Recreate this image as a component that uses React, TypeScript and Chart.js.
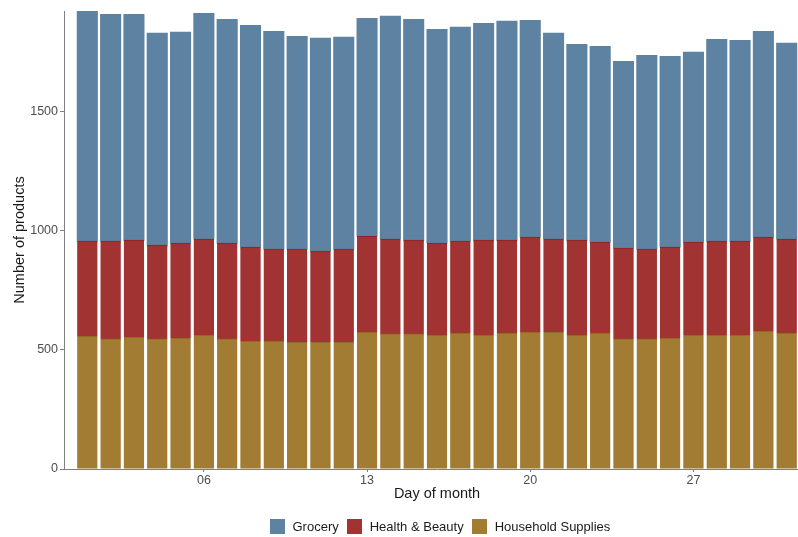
import { useEffect, useRef } from 'react';
import { Chart, registerables } from 'chart.js';

Chart.register(...registerables);

const days = [1, 2, 3, 4, 5, 6, 7, 8, 9, 10, 11, 12, 13, 14, 15, 16, 17, 18, 19, 20, 21, 22, 23, 24, 25, 26, 27, 28, 29, 30, 31];
const grocery = [964, 951, 947, 889, 884, 946, 938, 930, 913, 892, 893, 888, 913, 934, 926, 896, 897, 909, 918, 909, 863, 821, 821, 783, 812, 800, 796, 846, 842, 863, 821];
const healthBeauty = [398, 410, 406, 393, 398, 403, 402, 394, 386, 390, 381, 390, 402, 398, 393, 386, 385, 398, 389, 398, 390, 398, 381, 381, 377, 381, 390, 394, 394, 394, 394];
const household = [557, 545, 553, 545, 549, 561, 545, 536, 536, 532, 532, 532, 574, 566, 566, 561, 570, 561, 570, 574, 574, 561, 570, 545, 545, 549, 561, 561, 561, 578, 570];
const xTickValues = [6, 13, 20, 27];
const xTickLabels = ['06', '13', '20', '27'];
const yTickValues = [0, 500, 1000, 1500];

const seriesNames = ['Grocery', 'Health & Beauty', 'Household Supplies'];
const seriesColors = ['#5e82a2', '#a23333', '#a27c33'];

const FONT = "'Liberation Sans', Arial, Helvetica, sans-serif";

export default function App() {
  const ref = useRef<HTMLCanvasElement>(null);

  useEffect(() => {
    if (!ref.current) return;
    const axisColor = '#7f7f7f';
    const tickColor = '#4d4d4d';
    const common = {
      barPercentage: 0.87,
      categoryPercentage: 1,
      inflateAmount: 0.4,
    };
    const chart = new Chart(ref.current, {
      type: 'bar',
      data: {
        datasets: [
          {
            label: seriesNames[2],
            data: days.map((d, i) => ({ x: d, y: household[i] })),
            backgroundColor: seriesColors[2],
            borderColor: '#8c671c',
            borderWidth: { top: 1, left: 0, right: 0, bottom: 0 },
            ...common,
          },
          {
            label: seriesNames[1],
            data: days.map((d, i) => ({ x: d, y: healthBeauty[i] })),
            backgroundColor: seriesColors[1],
            borderColor: '#8a2424',
            borderWidth: { top: 1, left: 0, right: 0, bottom: 0 },
            ...common,
          },
          {
            label: seriesNames[0],
            data: days.map((d, i) => ({ x: d, y: grocery[i] })),
            backgroundColor: seriesColors[0],
            borderWidth: 0,
            ...common,
          },
        ],
      },
      options: {
        animation: false,
        responsive: true,
        maintainAspectRatio: false,
        layout: { padding: { top: 11, left: 0, right: 0, bottom: 34 } },
        plugins: {
          legend: { display: false },
          tooltip: { enabled: false },
        },
        font: { family: FONT },
        scales: {
          x: {
            type: 'linear',
            stacked: true,
            offset: false,
            min: 0,
            max: 32,
            afterBuildTicks: (s: any) => {
              s.ticks = xTickValues.map((v) => ({ value: v }));
            },
            afterFit: (s: any) => {
              s.height = 34;
            },
            ticks: {
              color: tickColor,
              font: { family: FONT, size: 12.5 },
              padding: 1,
              maxRotation: 0,
              autoSkip: false,
              callback: (v: any) => {
                const idx = xTickValues.indexOf(Number(v));
                return idx >= 0 ? xTickLabels[idx] : '';
              },
            },
            grid: { offset: false, drawOnChartArea: false, drawTicks: true, tickLength: 3, color: axisColor },
            border: { display: true, color: axisColor, width: 1 },
            title: {
              display: true,
              text: 'Day of month',
              color: '#1a1a1a',
              font: { family: FONT, size: 14.5 },
              padding: { top: 0, bottom: 0 },
            },
          },
          y: {
            stacked: true,
            min: 0,
            max: 1920,
            afterBuildTicks: (s: any) => {
              s.ticks = yTickValues.map((v) => ({ value: v }));
            },
            afterFit: (s: any) => {
              s.width = 64;
            },
            ticks: {
              color: tickColor,
              font: { family: FONT, size: 12.5 },
              padding: 2,
              callback: (v: any) => String(v),
            },
            grid: { drawOnChartArea: false, drawTicks: true, tickLength: 4, color: axisColor },
            border: { display: true, color: axisColor, width: 1 },
            title: {
              display: true,
              text: 'Number of products',
              color: '#1a1a1a',
              font: { family: FONT, size: 14.5 },
              padding: { top: 11, bottom: 0 },
            },
          },
        },
      },
    } as any);
    return () => chart.destroy();
  }, []);

  return (
    <div
      style={{
        position: 'fixed',
        left: 0,
        top: 0,
        width: 798,
        height: 537,
        overflow: 'hidden',
        background: '#ffffff',
      }}
    >
      <div style={{ position: 'absolute', left: 0, top: 0, width: 810, height: 537 }}>
        <canvas ref={ref} />
      </div>
      <div
        style={{
          position: 'absolute',
          left: 270,
          top: 519,
          height: 15,
          display: 'flex',
          alignItems: 'center',
          fontFamily: FONT,
          fontSize: 13,
          color: '#1a1a1a',
          whiteSpace: 'nowrap',
        }}
      >
        {seriesNames.map((name, i) => (
          <div key={name} style={{ display: 'flex', alignItems: 'center', marginRight: 8.5 }}>
            <span
              style={{
                display: 'inline-block',
                width: 15,
                height: 15,
                background: seriesColors[i],
                marginRight: 7.5,
              }}
            />
            <span style={{ lineHeight: '15px' }}>{name}</span>
          </div>
        ))}
      </div>
    </div>
  );
}
